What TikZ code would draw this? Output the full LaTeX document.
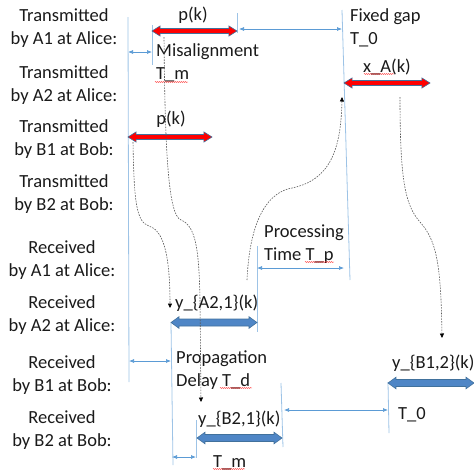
\documentclass[tikz,border=0pt]{standalone}
\usepackage{fontspec}
\setmainfont{Carlito}
\usetikzlibrary{arrows.meta,shapes.arrows,decorations.pathmorphing}
\definecolor{vline}{HTML}{9DC3E6}
\definecolor{dimc}{HTML}{5B9BD5}
\definecolor{bord}{HTML}{41719C}
\definecolor{bfill}{HTML}{4F86C6}
\definecolor{txt}{HTML}{1A1A1A}
\newcommand{\lblfont}{\fontsize{18.5}{23}\selectfont}
\begin{document}
\begin{tikzpicture}[x=1pt,y=-1pt,
  lbl/.style={font=\lblfont, inner sep=0pt, anchor=base, text=txt},
  lblw/.style={font=\lblfont, inner sep=0pt, anchor=base west, text=txt},
  vl/.style={draw=vline, line width=0.8pt},
  dim/.style={draw=dimc, line width=0.7pt, {Latex[length=5pt,width=4pt]}-{Latex[length=5pt,width=4pt]}},
  flow/.style={draw=black!65, line width=0.6pt, dash pattern=on 1.6pt off 1.2pt, -{Triangle[length=4.5pt,width=4pt,black]}},
  redar/.style={shape=double arrow, fill=red, draw=bord, line width=0.6pt, inner xsep=0pt, inner ysep=2.2pt,
    double arrow head extend=2.6pt, double arrow tip angle=64, minimum height=#1},
  bluear/.style={shape=double arrow, fill=bfill, draw=bord, line width=0.6pt, inner xsep=0pt, inner ysep=3.2pt,
    double arrow head extend=2.3pt, double arrow tip angle=72, minimum height=#1},
  sq/.style={draw=red!85, line width=0.45pt, decorate, decoration={snake, amplitude=0.5pt, segment length=2pt}}
]
\useasboundingbox (0,0) rectangle (474,475);

% left column labels
\node[lbl] (ta1) at (64,21) {Transmitted};
\node[lbl] (ta1b) at (64,44) {by A1 at Alice:};
\node[lbl] (ta2) at (64,78) {Transmitted};
\node[lbl] (ta2b) at (64,101) {by A2 at Alice:};
\node[lbl] (tb1) at (64,132) {Transmitted};
\node[lbl] (tb1b) at (64,155) {by B1 at Bob:};
\node[lbl] (tb2) at (64,187) {Transmitted};
\node[lbl] (tb2b) at (64,210) {by B2 at Bob:};
\node[lbl] (ra1) at (62,253) {Received};
\node[lbl] (ra1b) at (62,276) {by A1 at Alice:};
\node[lbl] (ra2) at (62,308) {Received};
\node[lbl] (ra2b) at (62,331) {by A2 at Alice:};
\node[lbl] (rb1) at (62,368) {Received};
\node[lbl] (rb1b) at (62,391) {by B1 at Bob:};
\node[lbl] (rb2) at (62,423) {Received};
\node[lbl] (rb2b) at (62,446) {by B2 at Bob:};

% vertical reference lines
\coordinate (v1t) at (128,17);  \coordinate (v1b) at (129,382);
\coordinate (v2t) at (152,25);  \coordinate (v2b) at (152,65);
\coordinate (v3t) at (237,13);  \coordinate (v3b) at (237,33);
\coordinate (v4t) at (342,10);  \coordinate (v4b) at (350,280);
\coordinate (v5t) at (257,246); \coordinate (v5b) at (257,332);
\coordinate (v6t) at (171,323); \coordinate (v6b) at (173,465);
\coordinate (v7t) at (196,420); \coordinate (v7b) at (196,458);
\coordinate (v8t) at (281,383); \coordinate (v8b) at (283,447);
\coordinate (v9t) at (388,382); \coordinate (v9b) at (389,433);
\foreach \v in {1,...,9} {\draw[vl] (v\v t) -- (v\v b);}

% thick arrows
\node[redar=85pt] (pk1) at (194.5,31) {};
\node[redar=84pt] (pk2) at (170,137) {};
\node[redar=86pt] (xak) at (387,83) {};
\node[bluear=86pt] (ya2) at (214,322.5) {};
\node[bluear=85pt] (yb2) at (239.5,438) {};
\node[bluear=86pt] (yb1) at (431,383) {};

% dimension arrows
\coordinate (m1) at (128,52);  \coordinate (m2) at (152,52);
\coordinate (g1) at (239,29);  \coordinate (g2) at (342,29);
\coordinate (p1) at (257,268); \coordinate (p2) at (344,268);
\coordinate (d1) at (129,361); \coordinate (d2) at (171,361);
\coordinate (n1) at (172,457); \coordinate (n2) at (196,457);
\coordinate (o1) at (284,410); \coordinate (o2) at (388,410);
\draw[dim] (m1) -- (m2);
\draw[dim] (g1) -- (g2);
\draw[dim] (p1) -- (p2);
\draw[dim] (d1) -- (d2);
\draw[dim] (n1) -- (n2);
\draw[dim] (o1) -- (o2);

% labels
\node[lbl] (pk1t) at (193,20) {p(k)};
\node[lbl] (pk2t) at (171,124) {p(k)};
\node[lbl] (xakt) at (387,72) {x\_A(k)};
\node[lblw] (mis) at (156,56) {Misalignment};
\node[lblw] (mis2) at (156,79) {T\_m};
\node[lblw] (fg) at (350,21) {Fixed gap};
\node[lblw] (fg2) at (350,44) {T\_0};
\node[lblw] (pt) at (264,237) {Processing};
\node[lblw] (pt2) at (264,260) {Time T\_p};
\node[lblw] (ya2t) at (175,308) {y\_\{A2,1\}(k)};
\node[lblw] (pd) at (176,363) {Propagation};
\node[lblw] (pd2) at (176,386) {Delay T\_d};
\node[lblw] (yb2t) at (198,424) {y\_\{B2,1\}(k)};
\node[lblw] (tm) at (213,467) {T\_m};
\node[lblw] (yb1t) at (392,368) {y\_\{B1,2\}(k)};
\node[lblw] (t0) at (398,419) {T\_0};

% spell-check underlines
\coordinate (s1a) at (155,82);  \coordinate (s1b) at (188,82);
\coordinate (s2a) at (364,74);  \coordinate (s2b) at (394,74);
\coordinate (s3a) at (305,262); \coordinate (s3b) at (334,262);
\coordinate (s4a) at (220,388); \coordinate (s4b) at (252,388);
\coordinate (s5a) at (213,469); \coordinate (s5b) at (245,469);
\foreach \s in {1,...,5} {\draw[sq] (s\s a) -- (s\s b);}

% signal flow curves
\coordinate (c1s) at (133,142); \coordinate (c1e) at (170,308);
\coordinate (c2s) at (164,37);  \coordinate (c2e) at (201,402);
\coordinate (c3s) at (247,280); \coordinate (c3e) at (342,97);
\coordinate (c4s) at (400,97);  \coordinate (c4e) at (442,338);
\draw[flow] (c1s) .. controls (134,200) and (136,222) .. (149,226)
  .. controls (162,230) and (170,250) .. (c1e);
\draw[flow] (c2s) .. controls (165,150) and (168,215) .. (181,220)
  .. controls (196,226) and (199,250) .. (200,300) -- (c2e);
\draw[flow] (c3s) .. controls (250,215) and (270,192) .. (292,188)
  .. controls (330,180) and (341,150) .. (c3e);
\draw[flow] (c4s) .. controls (400,180) and (405,205) .. (420,222)
  .. controls (436,240) and (441,262) .. (c4e);
\end{tikzpicture}
\end{document}
